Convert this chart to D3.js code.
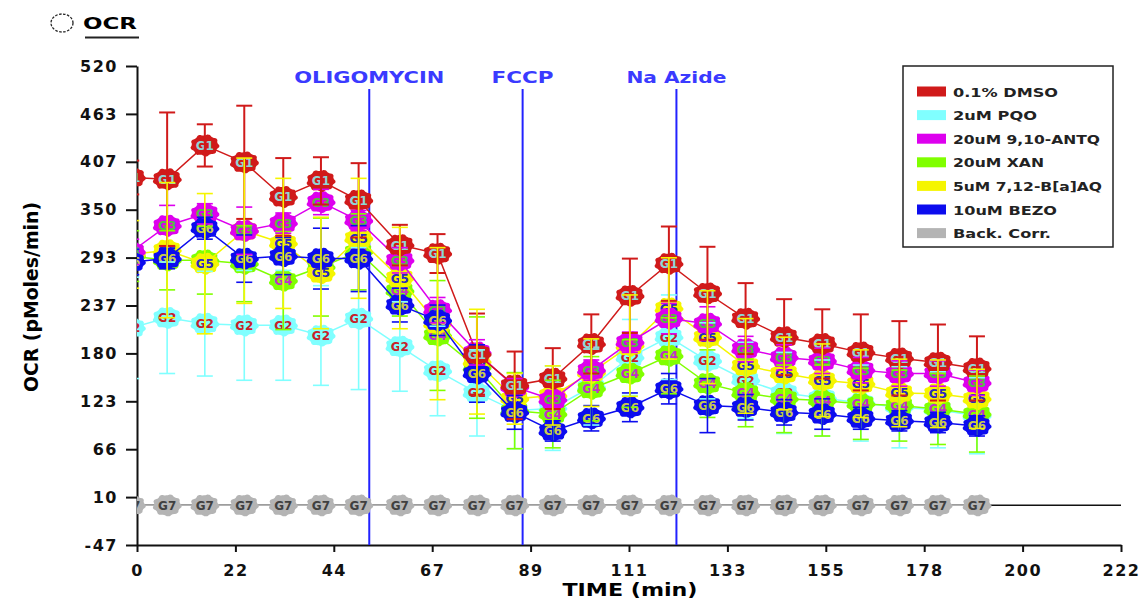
<!DOCTYPE html>
<html>
<head>
<meta charset="utf-8">
<script src="https://cdn.jsdelivr.net/npm/d3@7"></script>
<style>
  body { margin: 0; background: #fff; }
  text { font-family: "DejaVu Sans", sans-serif; font-weight: bold; }
</style>
</head>
<body>
<svg id="ocr-chart" width="1143" height="600"></svg>
<script>
/* OCR time course, seahorse style plot */

// measurement times (min)
const time_min = [-1.3, 6.8, 15.3, 24.2, 33.0, 41.5, 50.0, 59.3, 67.8, 76.7, 85.2, 93.8,
                  102.5, 111.2, 120.0, 128.7, 137.3, 146.0, 154.6, 163.3, 172.0, 180.7, 189.5];

// OCR (pMoles/min) per group, with error
const dmso      = [388, 386, 426, 406, 365, 384, 361, 308, 298, 179, 142, 150, 191, 248, 286, 251, 221, 199, 191, 181, 174, 169, 162];
const dmso_err  = [20, 79, 25, 67, 46, 28, 44, 24, 23, 48, 40, 36, 35, 44, 44, 55, 42, 45, 41, 45, 44, 45, 38];
const pqo       = [210, 222, 215, 213, 213, 201, 221, 188, 159, 133, 112, 115, 140, 175, 199, 171, 148, 133, 127, 121, 116, 113, 106];
const pqo_err   = [60, 66, 62, 65, 65, 59, 84, 53, 53, 51, 45, 50, 45, 45, 50, 45, 45, 48, 45, 45, 48, 45, 45];
const antq      = [300, 331, 345, 325, 334, 359, 337, 290, 231, 181, 140, 125, 160, 193, 221, 215, 185, 175, 171, 160, 156, 156, 145];
const antq_err  = [15, 24, 12, 28, 12, 15, 12, 15, 15, 15, 10, 10, 12, 12, 18, 20, 15, 15, 15, 15, 15, 15, 15];
const xan       = [295, 290, 290, 286, 266, 282, 300, 254, 201, 163, 112, 108, 138, 156, 177, 144, 133, 126, 124, 120, 118, 114, 108];
const xan_err   = [30, 35, 40, 45, 58, 58, 45, 30, 65, 60, 45, 40, 38, 40, 45, 40, 40, 40, 42, 42, 42, 42, 45];
const baaq      = [297, 302, 286, 325, 310, 275, 316, 269, 215, 170, 126, 130, 157, 189, 233, 199, 165, 156, 148, 144, 133, 132, 126];
const baaq_err  = [40, 80, 83, 86, 77, 66, 71, 60, 90, 62, 30, 35, 40, 60, 60, 55, 56, 43, 43, 40, 40, 40, 35];
const bezo      = [288, 292, 328, 292, 295, 292, 292, 237, 219, 156, 110, 88, 103, 116, 138, 118, 116, 110, 108, 103, 100, 98, 94];
const bezo_err  = [15, 12, 13, 28, 22, 36, 39, 20, 18, 34, 20, 12, 15, 17, 18, 32, 15, 15, 18, 13, 12, 12, 12];
const back_corr = [0, 0, 0, 0, 0, 0, 0, 0, 0, 0, 0, 0, 0, 0, 0, 0, 0, 0, 0, 0, 0, 0, 0];
const back_err  = [0, 0, 0, 0, 0, 0, 0, 0, 0, 0, 0, 0, 0, 0, 0, 0, 0, 0, 0, 0, 0, 0, 0];

const group_names = ["0.1% DMSO", "2uM PQO", "20uM 9,10-ANTQ", "20uM XAN", "5uM 7,12-B[a]AQ", "10uM BEZO", "Back. Corr."];
const group_tags  = ["G1", "G2", "G3", "G4", "G5", "G6", "G7"];

// injections
const injection_names = ["OLIGOMYCIN", "FCCP", "Na Azide"];
const injection_times = [52.4, 87.0, 121.7];

// ticks
const x_tick_values = [0, 22.2, 44.4, 66.6, 88.8, 111, 133.2, 155.4, 177.6, 199.8, 222];
const x_tick_labels = ["0", "22", "44", "67", "89", "111", "133", "155", "178", "200", "222"];
const y_tick_values = [-47, 9.7, 66.4, 123.1, 179.8, 236.5, 293.2, 349.9, 406.6, 463.3, 520];
const y_tick_labels = ["-47", "10", "66", "123", "180", "237", "293", "350", "407", "463", "520"];

/*** colours */
const group_colors = ["#d01a1a", "#80ffff", "#dd00ee", "#80ff00", "#f5f500", "#0c0cee", "#b4b4b4"];
const tag_colors   = ["#8fd6d6", "#c8202a", "#55bb44", "#c030c8", "#2828c0", "#c8c850", "#404040"];
const legend_text_width = [105, 84, 147, 91, 149, 104, 98];

const values = [dmso, pqo, antq, xan, baaq, bezo, back_corr];
const errors = [dmso_err, pqo_err, antq_err, xan_err, baaq_err, bezo_err, back_err];

const groups = group_names.map((name, i) => ({
	name: name,
	tag: group_tags[i],
	color: group_colors[i],
	tagColor: tag_colors[i],
	points: time_min.map((t, j) => ({ t: t, v: values[i][j], e: errors[i][j] }))
}));

const svg = d3.select("#ocr-chart");

/*** scales */
const x = d3.scaleLinear().domain([0, 222]).range([137, 1121]);
const y = d3.scaleLinear().domain([-47, 520]).range([545, 66]);

svg.append("clipPath").attr("id", "plot-clip")
	.append("rect")
	.attr("x", x(0)).attr("y", 40)
	.attr("width", x(222) - x(0)).attr("height", y(-47) - 40);

/*** title in the corner */
svg.append("ellipse")
	.attr("cx", 62).attr("cy", 23).attr("rx", 11).attr("ry", 9)
	.attr("fill", "none").attr("stroke", "#222").attr("stroke-width", 1.3)
	.attr("stroke-dasharray", "2.5,1.5");
svg.append("text")
	.attr("x", 83).attr("y", 29)
	.attr("font-size", "16px")
	.attr("textLength", 54).attr("lengthAdjust", "spacingAndGlyphs")
	.text("OCR");
svg.append("line")
	.attr("x1", 85).attr("x2", 139).attr("y1", 37.5).attr("y2", 37.5)
	.attr("stroke", "#222").attr("stroke-width", 2);

/*** axes */
const xAxis = g => g
	.attr("transform", `translate(0,${y(-47)})`)
	.call(d3.axisBottom(x).tickValues(x_tick_values)
		.tickFormat((d, i) => x_tick_labels[i])
		.tickSize(7).tickPadding(13).tickSizeOuter(0));

const yAxis = g => g
	.attr("transform", `translate(${x(0)},0)`)
	.call(d3.axisLeft(y).tickValues(y_tick_values)
		.tickFormat((d, i) => y_tick_labels[i])
		.tickSize(11).tickPadding(8).tickSizeOuter(0));

svg.append("g").attr("class", "axis").call(xAxis);
svg.append("g").attr("class", "axis").call(yAxis);

svg.selectAll(".axis path, .axis line").attr("stroke", "#111").attr("stroke-width", 2);
svg.selectAll(".axis text")
	.attr("font-family", "DejaVu Sans, sans-serif")
	.attr("font-weight", "bold")
	.attr("font-size", "16px")
	.attr("letter-spacing", "1.5px")
	.attr("fill", "#111");

/*** axis titles */
svg.append("text")
	.attr("transform", "translate(38,297) rotate(-90)")
	.attr("text-anchor", "middle")
	.attr("font-size", "19px")
	.attr("textLength", 190).attr("lengthAdjust", "spacingAndGlyphs")
	.text("OCR (pMoles/min)");

svg.append("text")
	.attr("x", 630).attr("y", 596)
	.attr("text-anchor", "middle")
	.attr("font-size", "18px")
	.attr("textLength", 135).attr("lengthAdjust", "spacingAndGlyphs")
	.text("TIME (min)");

/*** zero line */
svg.append("line")
	.attr("x1", x(0)).attr("x2", x(222))
	.attr("y1", y(0)).attr("y2", y(0))
	.attr("stroke", "#111").attr("stroke-width", 1.6);

/*** injection markers */
const inj_label_width = [150, 62, 100];
injection_times.forEach((t, i) => {
	svg.append("line")
		.attr("x1", x(t)).attr("x2", x(t))
		.attr("y1", 89).attr("y2", y(-47))
		.attr("stroke", "#2222ff").attr("stroke-width", 2);
	svg.append("text")
		.attr("x", x(t)).attr("y", 83)
		.attr("text-anchor", "middle")
		.attr("font-size", "15px")
		.attr("fill", "#3a3aff")
		.attr("textLength", inj_label_width[i]).attr("lengthAdjust", "spacingAndGlyphs")
		.text(injection_names[i]);
});

/*** blobby cog marker */
const cog = (() => {
	let pts = [];
	for (let k = 0; k < 36; k++) {
		let a = k / 36 * 2 * Math.PI;
		let r = (Math.floor(k / 2) % 2 == 0) ? 1 : 0.91;
		pts.push([14.5 * r * Math.cos(a), 11 * r * Math.sin(a)]);
	}
	return d3.line().curve(d3.curveCardinalClosed.tension(0.4))(pts);
})();

const plot = svg.append("g").attr("clip-path", "url(#plot-clip)");

const line = d3.line().x(d => x(d.t)).y(d => y(d.v));

/*** lines + markers, drawn back to front */
const draw_order = [6, 1, 3, 4, 2, 5, 0];
draw_order.forEach(i => {
	const grp = groups[i];
	const g = plot.append("g").attr("class", "group");
	g.append("path")
		.datum(grp.points)
		.attr("d", line)
		.attr("fill", "none")
		.attr("stroke", grp.color)
		.attr("stroke-width", 1.5);
	const m = g.selectAll("g.marker")
		.data(grp.points)
		.join("g")
		.attr("class", "marker")
		.attr("transform", d => `translate(${x(d.t)},${y(d.v)})`);
	m.append("path")
		.attr("d", cog)
		.attr("fill", grp.color);
	m.append("text")
		.attr("y", 4.5)
		.attr("text-anchor", "middle")
		.attr("font-size", "12px")
		.attr("fill", grp.tagColor)
		.text(grp.tag);
});

/*** error bars on top, yellow last */
const err_order = [1, 3, 2, 5, 0, 4];
err_order.forEach(i => {
	const grp = groups[i];
	const eb = plot.append("g")
		.attr("stroke", grp.color)
		.attr("stroke-width", i == 0 ? 2 : 1.6)
		.selectAll("g")
		.data(grp.points)
		.join("g");
	eb.append("line")
		.attr("x1", d => x(d.t)).attr("x2", d => x(d.t))
		.attr("y1", d => y(d.v + d.e)).attr("y2", d => y(d.v - d.e));
	eb.append("line")
		.attr("x1", d => x(d.t) - 8).attr("x2", d => x(d.t) + 8)
		.attr("y1", d => y(d.v + d.e)).attr("y2", d => y(d.v + d.e));
	eb.append("line")
		.attr("x1", d => x(d.t) - 8).attr("x2", d => x(d.t) + 8)
		.attr("y1", d => y(d.v - d.e)).attr("y2", d => y(d.v - d.e));
});

/*** legend */
const legend = svg.append("g").attr("transform", "translate(903,66)");
legend.append("rect")
	.attr("width", 210).attr("height", 181)
	.attr("fill", "#fff").attr("stroke", "#222").attr("stroke-width", 1.5);
const rows = legend.selectAll("g.row")
	.data(groups)
	.join("g")
	.attr("class", "row")
	.attr("transform", (d, i) => `translate(0,${25.5 + i * 23.6})`);
rows.append("rect")
	.attr("x", 14).attr("y", -5).attr("width", 29).attr("height", 10)
	.attr("fill", d => d.color);
rows.append("text")
	.attr("x", 50).attr("y", 5)
	.attr("font-size", "12px")
	.attr("fill", "#222")
	.attr("textLength", (d, i) => legend_text_width[i]).attr("lengthAdjust", "spacingAndGlyphs")
	.text(d => d.name);
</script>
</body>
</html>
